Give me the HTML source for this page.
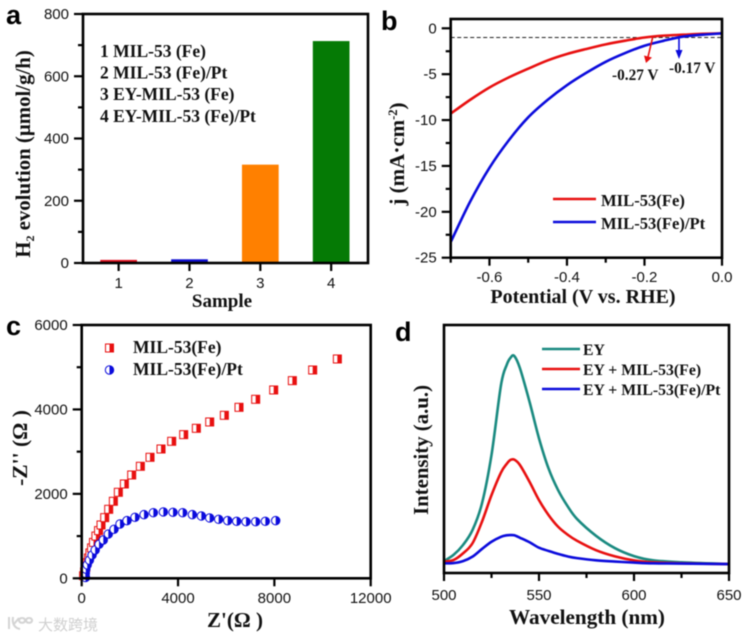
<!DOCTYPE html>
<html lang="en">
<head>
<meta charset="utf-8">
<title>MIL-53(Fe) four-panel figure</title>
<style>
html,body{margin:0;padding:0;background:#fff;width:743px;height:638px;overflow:hidden}
svg{display:block;filter:blur(.5px)}
.tick{font-family:"Liberation Sans",sans-serif;font-size:15px;fill:#111}
.title{font-family:"Liberation Serif",serif;font-weight:bold;fill:#111}
.panel{font-family:"Liberation Sans",sans-serif;font-weight:bold;font-size:27px;fill:#000}
</style>
</head>
<body>
<svg id="fig" xmlns="http://www.w3.org/2000/svg" width="743" height="638" viewBox="0 0 743 638">
  <rect width="743" height="638" fill="#fff"/>

  <text class="panel" x="6" y="24">a</text>
  <text class="panel" x="381" y="30">b</text>
  <text class="panel" x="6" y="335">c</text>
  <text class="panel" x="395" y="341">d</text>

  <!-- Panel a text -->
  <text class="title" font-size="20.8" text-anchor="middle" transform="translate(30 154) rotate(-90)">H<tspan font-size="12" dy="4">2</tspan><tspan dy="-4"> evolution (µmol/g/h)</tspan></text>
  <text class="title" font-size="19" text-anchor="middle" x="222" y="307">Sample</text>
  <g class="title" font-size="17.5">
    <text x="100" y="57">1 MIL-53 (Fe)</text>
    <text x="100" y="78.5">2 MIL-53 (Fe)/Pt</text>
    <text x="100" y="100">3 EY-MIL-53 (Fe)</text>
    <text x="100" y="122">4 EY-MIL-53 (Fe)/Pt</text>
  </g>

  <!-- Panel b text -->
  <text class="title" font-size="21" text-anchor="middle" transform="translate(404 154) rotate(-90)">j (mA·cm<tspan font-size="12.5" dy="-7">-2</tspan><tspan dy="7">)</tspan></text>
  <text class="title" font-size="20" text-anchor="middle" x="583" y="303">Potential (V vs. RHE)</text>
  <text class="title" font-size="15.3" x="612" y="80">-0.27 V</text>
  <text class="title" font-size="15.3" x="669" y="73">-0.17 V</text>
  <line x1="553" x2="596" y1="199" y2="199" stroke="#e81010" stroke-width="2.6"/>
  <line x1="553" x2="596" y1="222" y2="222" stroke="#0b0bdc" stroke-width="2.6"/>
  <text class="title" font-size="16.6" x="601" y="206">MIL-53(Fe)</text>
  <text class="title" font-size="16.6" x="601" y="229">MIL-53(Fe)/Pt</text>

  <!-- Panel c text -->
  <text class="title" font-size="21.5" text-anchor="middle" transform="translate(27 448) rotate(-90)">-Z'' (Ω )</text>
  <text class="title" font-size="21" text-anchor="middle" x="235" y="627">Z'(Ω )</text>
  <text class="title" font-size="17.5" x="133" y="353">MIL-53(Fe)</text>
  <text class="title" font-size="17.5" x="133" y="375">MIL-53(Fe)/Pt</text>

  <!-- Panel d text -->
  <text class="title" font-size="20.8" text-anchor="middle" transform="translate(428 450) rotate(-90)">Intensity (a.u.)</text>
  <text class="title" font-size="21.2" text-anchor="middle" x="587" y="624">Wavelength (nm)</text>
  <line x1="542" x2="580" y1="349" y2="349" stroke="#1a8a80" stroke-width="2.6"/>
  <line x1="542" x2="580" y1="369" y2="369" stroke="#e81010" stroke-width="2.6"/>
  <line x1="542" x2="580" y1="389" y2="389" stroke="#0b0bdc" stroke-width="2.6"/>
  <text class="title" font-size="15.8" x="583" y="355">EY</text>
  <text class="title" font-size="15.8" x="583" y="375">EY + MIL-53(Fe)</text>
  <text class="title" font-size="15.8" x="583" y="395">EY + MIL-53(Fe)/Pt</text>

  <!-- Watermark -->
  <g>
    <path d="M9 617v12M13 617c-1 6 1 11 7 12M14 624l5-6M22 618a3 2.4 0 1 0 .1 0M29 618a3 2.4 0 1 0 .1 0" fill="none" stroke="#d4d4d4" stroke-width="2"/>
    <text x="38" y="630" font-size="15" fill="#d0d0d0" font-family="'Liberation Sans','Noto Sans CJK SC',sans-serif">大数跨境</text>
  </g>
</svg>

<script>
// ---------- Panel a data ----------
const sampleCategories = [1, 2, 3, 4];
const sampleValues = [10, 12, 316, 713];
const sampleColors = ['#e0101f', '#1010d0', '#ff8000', '#057a05'];
const aYTicks = [0, 200, 400, 600, 800];
const aYMinor = [100, 300, 500, 700];

// ---------- Panel b data ----------
const potential = [-0.7, -0.65, -0.6, -0.55, -0.5, -0.45, -0.4, -0.35, -0.3, -0.25, -0.2, -0.15, -0.1, -0.05, 0];
const jFe = [-9.3, -7.8, -6.45, -5.35, -4.4, -3.5, -2.8, -2.25, -1.75, -1.35, -1.0, -0.8, -0.7, -0.6, -0.55];
const jFePt = [-23.3, -18.9, -15.2, -12.2, -9.7, -7.8, -6.2, -4.85, -3.65, -2.7, -1.9, -1.35, -0.9, -0.7, -0.55];
const bYTicks = [0, -5, -10, -15, -20, -25];
const bYMinor = [-2.5, -7.5, -12.5, -17.5, -22.5];
const bXTicks = [-0.6, -0.4, -0.2, 0];
const bXTickLabels = ['-0.6', '-0.4', '-0.2', '0.0'];
const bXMinor = [-0.7, -0.5, -0.3];
const thresholdJ = -1;

// ---------- Panel c data ----------
const zReFe = [80, 120, 170, 220, 280, 340, 410, 490, 590, 700, 803, 955, 1121, 1315, 1522, 1772, 2076, 2436, 2837, 3294, 3737, 4235, 4761, 5315, 5924, 6532, 7224, 7972, 8747, 9591, 10616];
const zImFe = [60, 150, 260, 370, 480, 600, 720, 850, 1000, 1130, 1263, 1437, 1634, 1824, 2037, 2234, 2447, 2653, 2866, 3063, 3245, 3403, 3553, 3703, 3861, 4050, 4240, 4461, 4682, 4934, 5195];
const zRePt = [160, 150, 170, 230, 320, 430, 560, 720, 897, 1105, 1342, 1590, 1882, 2214, 2588, 2976, 3391, 3792, 4194, 4595, 4969, 5315, 5688, 6062, 6436, 6823, 7224, 7626, 8055];
const zImPt = [20, 120, 220, 320, 430, 550, 670, 805, 907, 1049, 1160, 1286, 1366, 1445, 1508, 1555, 1571, 1563, 1555, 1508, 1476, 1429, 1397, 1366, 1350, 1342, 1342, 1350, 1366];
const cYTicks = [0, 2000, 4000, 6000];
const cYMinor = [1000, 3000, 5000];
const cXTicks = [0, 4000, 8000, 12000];

// ---------- Panel d data ----------
const wavelength = [500, 505, 510, 515, 520, 525, 530, 533, 535, 537, 540, 545, 550, 555, 560, 565, 570, 580, 590, 600, 610, 625, 650];
const intensityEY = [48, 73, 113, 173, 281, 476, 758, 839, 868, 875, 825, 691, 543, 422, 335, 270, 218, 150, 100, 68, 51, 43, 36];
const intensityFe = [46, 52, 79, 120, 207, 314, 405, 440, 456, 457, 435, 368, 294, 234, 187, 155, 130, 92, 67, 51, 43, 39, 36];
const intensityFePt = [39, 40, 48, 66, 97, 126, 146, 152, 153, 152, 142, 124, 102, 89, 77, 67, 60, 51, 46, 42, 39, 38, 36];
const dXTicks = [500, 550, 600, 650];
const dXMinor = [525, 575, 625];

// ---------- helpers ----------
const SVGNS = 'http://www.w3.org/2000/svg';
const fig = document.getElementById('fig');
const RED = '#e81010', BLUE = '#0b0bdc', TEAL = '#1a8a80';

function mk(tag, attrs, name, parent) {
  const el = document.createElementNS(SVGNS, tag);
  for (const k in attrs) el.setAttribute(k, attrs[k]);
  
  
  (parent || fig).appendChild(el);
  return el;
}
function scale(d0, d1, r0, r1) {
  return v => r0 + (v - d0) / (d1 - d0) * (r1 - r0);
}
function smoothPath(xs, ys, sx, sy) {
  const p = xs.map((x, i) => [sx(x), sy(ys[i])]);
  let d = 'M' + p[0][0].toFixed(2) + ' ' + p[0][1].toFixed(2);
  for (let i = 0; i < p.length - 1; i++) {
    const a = p[Math.max(i - 1, 0)], b = p[i], c = p[i + 1], e = p[Math.min(i + 2, p.length - 1)];
    const c1x = b[0] + (c[0] - a[0]) / 6, c1y = b[1] + (c[1] - a[1]) / 6;
    const c2x = c[0] - (e[0] - b[0]) / 6, c2y = c[1] - (e[1] - b[1]) / 6;
    d += 'C' + [c1x, c1y, c2x, c2y, c[0], c[1]].map(n => n.toFixed(2)).join(' ');
  }
  return d;
}
function frame(box, name) {
  mk('rect', {x: box.l, y: box.t, width: box.r - box.l, height: box.b - box.t, fill: 'none', stroke: '#000', 'stroke-width': 2.6}, name);
}
function yAxis(box, sy, majors, minors, labelFn, axis) {
  majors.forEach(v => {
    mk('line', {x1: box.l - 9, x2: box.l, y1: sy(v), y2: sy(v), stroke: '#000', 'stroke-width': 2.2}, axis + '-major-tick');
    const t = mk('text', {x: box.l - 14, y: sy(v) + 5, 'text-anchor': 'end', class: 'tick'}, axis + '-tick-label');
    t.textContent = labelFn(v);
  });
  minors.forEach(v => {
    mk('line', {x1: box.l - 5, x2: box.l, y1: sy(v), y2: sy(v), stroke: '#000', 'stroke-width': 2.2}, axis + '-minor-tick');
  });
}
function xAxis(box, sx, majors, labels, minors, axis, labelY) {
  majors.forEach((v, i) => {
    mk('line', {x1: sx(v), x2: sx(v), y1: box.b, y2: box.b + 8, stroke: '#000', 'stroke-width': 2.2}, axis + '-major-tick');
    const t = mk('text', {x: sx(v), y: labelY, 'text-anchor': 'middle', class: 'tick'}, axis + '-tick-label');
    t.textContent = labels[i];
  });
  minors.forEach(v => {
    mk('line', {x1: sx(v), x2: sx(v), y1: box.b, y2: box.b + 5, stroke: '#000', 'stroke-width': 2.2}, axis + '-minor-tick');
  });
}
function squareMarker(cx, cy, color, name) {
  const g = mk('g', {}, name);
  mk('rect', {x: cx - 4, y: cy - 4, width: 8, height: 8, fill: '#fff', stroke: color, 'stroke-width': 1}, 'marker-outline', g);
  mk('rect', {x: cx, y: cy - 4, width: 4, height: 8, fill: color}, 'marker-fill', g);
}
function circleMarker(cx, cy, color, name) {
  const g = mk('g', {}, name);
  mk('circle', {cx: cx, cy: cy, r: 4.2, fill: '#fff', stroke: color, 'stroke-width': 1}, 'marker-outline', g);
  const d = 'M' + cx + ' ' + (cy - 4.2) + 'A4.2 4.2 0 0 1 ' + cx + ' ' + (cy + 4.2) + 'Z';
  mk('path', {d: d, fill: color}, 'marker-fill', g);
}

// ---------- Panel a ----------
(function () {
  const box = {l: 83, r: 368, t: 14, b: 263};
  const sx = scale(0.497, 4.52, box.l, box.r);
  const sy = scale(0, 800, box.b, box.t);
  const barW = 36.7;
  sampleCategories.forEach((c, i) => {
    mk('rect', {x: sx(c) - barW / 2, y: sy(sampleValues[i]), width: barW, height: box.b - sy(sampleValues[i]), fill: sampleColors[i]}, 'bar-sample-' + c);
  });
  frame(box, 'plot-frame-a');
  yAxis(box, sy, aYTicks, aYMinor, v => String(v), 'y-axis-a');
  xAxis(box, sx, sampleCategories, sampleCategories.map(String), [], 'x-axis-a', 288);
})();

// ---------- Panel b ----------
(function () {
  const box = {l: 450.7, r: 722, t: 19, b: 257.7};
  const sx = scale(-0.7, 0, box.l, box.r);
  const sy = scale(0, -25, 28.3, box.b);
  mk('line', {x1: box.l, x2: box.r, y1: sy(thresholdJ), y2: sy(thresholdJ), stroke: '#222', 'stroke-width': 1, 'stroke-dasharray': '4 2.5'}, 'threshold-dashed-line');
  mk('path', {d: smoothPath(potential, jFe, sx, sy), fill: 'none', stroke: RED, 'stroke-width': 2.6}, 'curve-mil-53-fe');
  mk('path', {d: smoothPath(potential, jFePt, sx, sy), fill: 'none', stroke: BLUE, 'stroke-width': 2.6}, 'curve-mil-53-fe-pt');
  frame(box, 'plot-frame-b');
  yAxis(box, sy, bYTicks, bYMinor, v => String(v), 'y-axis-b');
  xAxis(box, sx, bXTicks, bXTickLabels, bXMinor, 'x-axis-b', 282);
  mk('line', {x1: 652.5, y1: 38, x2: 648, y2: 57, stroke: RED, 'stroke-width': 1.6}, 'arrow-shaft-red');
  mk('path', {d: 'M644 55.5L652 57.5L646 63Z', fill: RED}, 'arrow-head-red');
  mk('line', {x1: 679, y1: 38, x2: 679, y2: 52, stroke: BLUE, 'stroke-width': 1.6}, 'arrow-shaft-blue');
  mk('path', {d: 'M675.5 50L682.5 50L679 59Z', fill: BLUE}, 'arrow-head-blue');
})();

// ---------- Panel c ----------
(function () {
  const box = {l: 81.7, r: 370.7, t: 325, b: 578.3};
  const sx = scale(0, 12000, box.l, box.r);
  const sy = scale(0, 6000, box.b, box.t);
  zReFe.forEach((x, i) => squareMarker(sx(x), sy(zImFe[i]), RED, 'point-mil-53-fe'));
  zRePt.forEach((x, i) => circleMarker(sx(x), sy(zImPt[i]), BLUE, 'point-mil-53-fe-pt'));
  frame(box, 'plot-frame-c');
  yAxis(box, sy, cYTicks, cYMinor, v => String(v), 'y-axis-c');
  xAxis(box, sx, cXTicks, cXTicks.map(String), [], 'x-axis-c', 603);
  squareMarker(109.5, 348, RED, 'legend-marker-red-c');
  circleMarker(109.5, 370, BLUE, 'legend-marker-blue-c');
})();

// ---------- Panel d ----------
(function () {
  const box = {l: 444, r: 729, t: 325, b: 573};
  const sx = scale(500, 650, box.l, box.r);
  const sy = scale(0, 1000, box.b, box.b - 248);
  mk('path', {d: smoothPath(wavelength, intensityEY, sx, sy), fill: 'none', stroke: TEAL, 'stroke-width': 2.6}, 'curve-ey');
  mk('path', {d: smoothPath(wavelength, intensityFe, sx, sy), fill: 'none', stroke: RED, 'stroke-width': 2.6}, 'curve-ey-mil-53-fe');
  mk('path', {d: smoothPath(wavelength, intensityFePt, sx, sy), fill: 'none', stroke: BLUE, 'stroke-width': 2.6}, 'curve-ey-mil-53-fe-pt');
  frame(box, 'plot-frame-d');
  xAxis(box, sx, dXTicks, dXTicks.map(String), dXMinor, 'x-axis-d', 600);
})();
</script>
</body>
</html>
